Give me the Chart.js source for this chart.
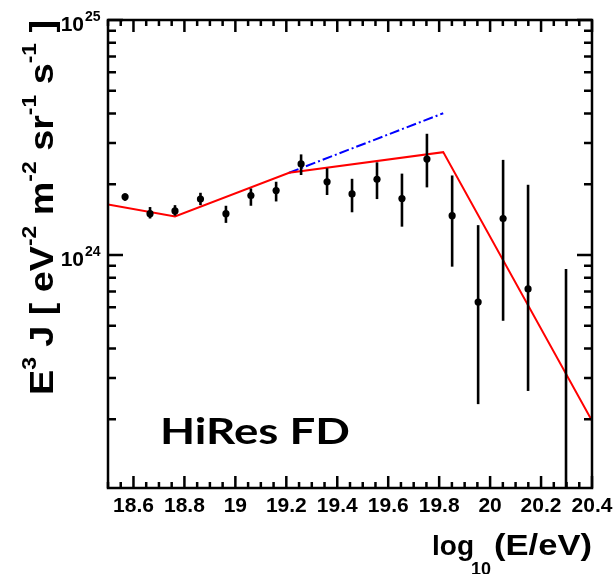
<!DOCTYPE html>
<html>
<head>
<meta charset="utf-8">
<script src="https://cdn.jsdelivr.net/npm/chart.js@4/dist/chart.umd.min.js"></script>
<style>
  html, body { margin: 0; padding: 0; background: #fff; }
  #wrap { width: 613px; height: 574px; position: relative; }
</style>
</head>
<body>
<div id="wrap"><canvas id="chart"></canvas></div>
<script>
// HiRes FD spectrum points: log10(E/eV), E^3 J and its error range
const logE = [18.567, 18.665, 18.763, 18.863, 18.963, 19.061, 19.160, 19.258, 19.360,
  19.458, 19.556, 19.654, 19.752, 19.851, 19.953, 20.051, 20.149, 20.298];
const flux = [1.77e24, 1.50e24, 1.54e24, 1.73e24, 1.50e24, 1.79e24, 1.88e24, 2.44e24, 2.05e24,
  1.82e24, 2.10e24, 1.74e24, 2.56e24, 1.47e24, 6.31e23, 1.43e24, 7.17e23, 9.0e22];
const fluxUp = [1.83e24, 1.60e24, 1.63e24, 1.84e24, 1.62e24, 1.92e24, 2.05e24, 2.68e24, 2.34e24,
  2.11e24, 2.48e24, 2.22e24, 3.28e24, 2.18e24, 1.34e24, 2.54e24, 1.99e24, 8.72e23];
const fluxLow = [1.70e24, 1.43e24, 1.47e24, 1.63e24, 1.37e24, 1.62e24, 1.69e24, 2.19e24, 1.80e24,
  1.52e24, 1.73e24, 1.32e24, 1.94e24, 8.92e23, 2.32e23, 5.25e23, 2.64e23, 5.0e22];

// broken power law fit (red) and extrapolation without the cutoff (blue)
const fitLogE = [18.5, 18.763, 19.211, 19.816, 20.4];
const fitFlux = [1.64e24, 1.46e24, 2.24e24, 2.74e24, 1.97e23];
const extLogE = [19.211, 19.816];
const extFlux = [2.24e24, 4.01e24];

// axis ticks
const xMajor = [18.6, 18.8, 19, 19.2, 19.4, 19.6, 19.8, 20, 20.2, 20.4];
const xMinorStep = 0.05;
const yTicks = [2e23, 3e23, 4e23, 5e23, 6e23, 7e23, 8e23, 9e23,
  1e24, 2e24, 3e24, 4e24, 5e24, 6e24, 7e24, 8e24, 9e24, 1e25];
const yLabelled = [{ v: 1e24, exp: '24' }, { v: 1e25, exp: '25' }];

const FONT = '"Liberation Sans", Arial, Helvetica, sans-serif';

function isMajorX(v) {
  return xMajor.some((m) => Math.abs(m - v) < 1e-6);
}

function pairs(xs, ys) {
  return xs.map((x, i) => ({ x, y: ys[i] }));
}

// draw text parts with superscripts, stretched to a target length
function drawRich(ctx, parts, size, target) {
  const small = Math.round(size * 0.62);
  const fontOf = (p) => `bold ${p.sup ? small : size}px ${FONT}`;
  let total = 0;
  parts.forEach((p) => {
    ctx.font = fontOf(p);
    total += ctx.measureText(p.t).width;
  });
  const k = target ? target / total : 1;
  ctx.save();
  ctx.scale(k, 1);
  let x = 0;
  parts.forEach((p) => {
    ctx.font = fontOf(p);
    ctx.fillText(p.t, x, p.sup ? -size * 0.52 : 0);
    x += ctx.measureText(p.t).width;
  });
  ctx.restore();
}

// single piece of text squeezed/stretched into [x0, x1]
function fitText(ctx, text, font, x0, x1, baseline) {
  ctx.save();
  ctx.font = font;
  const w = ctx.measureText(text).width;
  ctx.translate(x0, baseline);
  ctx.scale((x1 - x0) / w, 1);
  ctx.fillText(text, 0, 0);
  ctx.restore();
}

const decorPlugin = {
  id: 'decor',
  afterDatasetsDraw(chart) {
    const { ctx, chartArea: a, scales: { x, y } } = chart;
    ctx.save();
    ctx.strokeStyle = '#000';
    ctx.fillStyle = '#000';

    // error bars
    ctx.save();
    ctx.beginPath();
    ctx.rect(a.left, a.top, a.width, a.height);
    ctx.clip();
    ctx.lineWidth = 2.6;
    logE.forEach((e, i) => {
      const px = x.getPixelForValue(e);
      const lo = Math.min(y.getPixelForValue(fluxLow[i]), a.bottom + 5);
      ctx.beginPath();
      ctx.moveTo(px, y.getPixelForValue(fluxUp[i]));
      ctx.lineTo(px, lo);
      ctx.stroke();
    });
    ctx.restore();

    // frame and inward ticks on all four sides
    ctx.lineWidth = 2.5;
    ctx.strokeRect(a.left, a.top, a.width, a.height);
    ctx.beginPath();
    x.ticks.forEach((t) => {
      const px = x.getPixelForValue(t.value);
      const len = isMajorX(t.value) ? 12 : 6;
      ctx.moveTo(px, a.bottom); ctx.lineTo(px, a.bottom - len);
      ctx.moveTo(px, a.top); ctx.lineTo(px, a.top + len);
    });
    y.ticks.forEach((t) => {
      const py = y.getPixelForValue(t.value);
      const major = yLabelled.some((l) => l.v === t.value);
      const len = major ? 15 : 8;
      ctx.moveTo(a.left, py); ctx.lineTo(a.left + len, py);
      ctx.moveTo(a.right, py); ctx.lineTo(a.right - len, py);
    });
    ctx.stroke();

    // y tick labels 10^n
    ctx.textBaseline = 'alphabetic';
    yLabelled.forEach((l) => {
      const py = y.getPixelForValue(l.v);
      ctx.textAlign = 'right';
      ctx.font = `bold 21px ${FONT}`;
      ctx.fillText('10', a.left - 24, py + 11);
      ctx.textAlign = 'left';
      ctx.font = `bold 14px ${FONT}`;
      ctx.fillText(l.exp, a.left - 23, py + 1);
    });

    // axis titles
    ctx.textAlign = 'left';
    ctx.save();
    ctx.translate(53, 395);
    ctx.rotate(-Math.PI / 2);
    drawRich(ctx, [
      { t: 'E' }, { t: '3', sup: true }, { t: ' J [ eV' }, { t: '-2', sup: true },
      { t: ' m' }, { t: '-2', sup: true }, { t: ' sr' }, { t: '-1', sup: true },
      { t: ' s' }, { t: '-1', sup: true }, { t: ' ]' },
    ], 33, 375);
    ctx.restore();

    ctx.font = `bold 28px ${FONT}`;
    ctx.fillText('log', 432, 555);
    ctx.font = `bold 18px ${FONT}`;
    ctx.fillText('10', 471, 575);
    fitText(ctx, '(E/eV)', `bold 29px ${FONT}`, 494, 592, 555);

    // label inside the frame
    fitText(ctx, 'HiRes FD', 'bold 37px Lato, "Open Sans", sans-serif', 160, 350, 444);

    ctx.restore();
  },
};

const xTickValues = [];
for (let v = 18.5; v <= 20.4 + 1e-9; v += xMinorStep) xTickValues.push(+v.toFixed(2));

new Chart(document.getElementById('chart'), {
  type: 'scatter',
  data: {
    datasets: [
      {
        label: 'HiRes FD',
        data: pairs(logE, flux),
        pointRadius: 3.6,
        pointBackgroundColor: '#000',
        pointBorderColor: '#000',
        pointBorderWidth: 0,
        showLine: false,
      },
      {
        label: 'fit',
        data: pairs(fitLogE, fitFlux),
        showLine: true,
        borderColor: '#ff0000',
        borderWidth: 2,
        pointRadius: 0,
        tension: 0,
      },
      {
        label: 'no cutoff',
        data: pairs(extLogE, extFlux),
        showLine: true,
        borderColor: '#0000ff',
        borderWidth: 2,
        borderDash: [10, 3, 2, 3],
        pointRadius: 0,
      },
    ],
  },
  options: {
    responsive: true,
    maintainAspectRatio: false,
    animation: false,
    layout: { padding: { top: 20, right: 21, left: 0, bottom: 0 } },
    plugins: { legend: { display: false }, tooltip: { enabled: false } },
    scales: {
      x: {
        type: 'linear',
        min: 18.5,
        max: 20.4,
        afterBuildTicks: (s) => { s.ticks = xTickValues.map((value) => ({ value })); },
        afterFit: (s) => {
          s.height = 86;
          s.paddingLeft = 0;
          s.paddingRight = 0;
        },
        grid: { display: false, drawTicks: false },
        border: { display: false },
        ticks: {
          autoSkip: false,
          maxRotation: 0,
          padding: 6,
          color: '#000',
          font: { family: FONT, size: 21, weight: 'bold' },
          callback: (v) => (isMajorX(v) ? String(+v.toFixed(1)) : ''),
        },
      },
      y: {
        type: 'logarithmic',
        min: 1.02e23,
        max: 1e25,
        afterBuildTicks: (s) => { s.ticks = yTicks.map((value) => ({ value })); },
        afterFit: (s) => { s.width = 108; },
        grid: { display: false, drawTicks: false },
        border: { display: false },
        ticks: { display: false },
      },
    },
  },
  plugins: [decorPlugin],
});
</script>
</body>
</html>
